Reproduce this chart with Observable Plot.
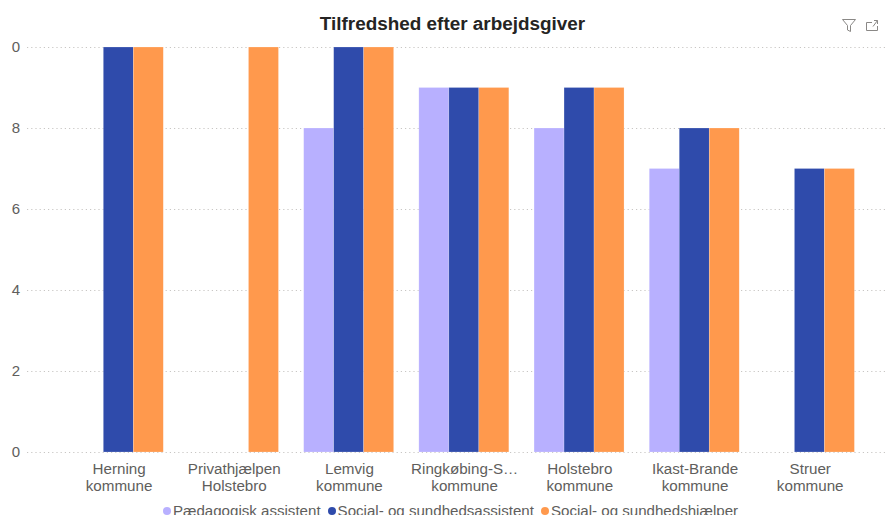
<!DOCTYPE html>
<html><head><meta charset="utf-8">
<script src="https://cdn.jsdelivr.net/npm/d3@7"></script>
<script src="https://cdn.jsdelivr.net/npm/@observablehq/plot@0.6"></script>
<style>
html,body{margin:0;padding:0;background:#fff;overflow:hidden;height:515px;width:887px}
#wrap{position:relative;width:887px;height:515px;overflow:hidden;font-family:"Liberation Sans",Arial,sans-serif}
#title{height:40px;box-sizing:border-box;padding-top:13px;padding-left:18px;text-align:center;font-size:18.9px;line-height:22px;font-weight:700;color:#252423}
#icons{position:absolute;left:840px;top:16px}
#legend{display:flex;justify-content:center;align-items:center;gap:7px;font-size:15.1px;color:#605E5C;height:22px;line-height:22px;padding-left:14px;padding-top:2px}
#legend span.i{display:inline-flex;align-items:center;gap:2px}
#legend i{display:inline-block;width:8px;height:8px;border-radius:50%}
svg{display:block}
</style></head><body>
<div id="wrap">
<div id="title">Tilfredshed efter arbejdsgiver</div>
<svg id="icons" width="42" height="18" viewBox="0 0 42 18" fill="none" stroke="#8a8886" stroke-width="1">
<path d="M2.5 3.5H15.5L10.5 9.5V15.5L7.5 14V9.5Z"/>
<path d="M26.5 6.5H32M26.5 6.5V14.5H37.5V10M33 10.5L37.5 4.5M34 4.5H37.5V8" />
</svg>
<div id="chart"></div>
<div id="legend"></div>
</div>
<script>
const categoryIndex = [0,1,2,3,4,5,6];
const categoryLabels = ["Herning\nkommune","Privathjælpen\nHolstebro","Lemvig\nkommune","Ringkøbing-S…\nkommune","Holstebro\nkommune","Ikast-Brande\nkommune","Struer\nkommune"];
const seriesNames = ["Pædagogisk assistent","Social- og sundhedsassistent","Social- og sundhedshjælper"];
const seriesColors = ["#B8B0FF","#2F4BAB","#FF994D"];
const paedagogisk = [null,null,8,9,8,7,null];
const assistent = [10,null,10,9,9,8,7];
const hjaelper = [10,10,10,9,9,8,7];
const yTicks = [0,2,4,6,8,10];
const yLabels = ["0","2","4","6","8","0"];
const barShare = 0.2604;

const rows = [];
[paedagogisk,assistent,hjaelper].forEach((vals,s)=>vals.forEach((v,c)=>{
  if(v!==null) rows.push({c,s,series:seriesNames[s],value:v});
}));

const plot = Plot.plot({
  width:887,height:458,
  marginTop:7,marginBottom:46,marginLeft:27,marginRight:0,
  style:{fontFamily:"'Liberation Sans',Arial,sans-serif",background:"#fff",overflow:"visible"},
  y:{domain:[0,10],label:null},
  x:{type:"linear",domain:[-0.5,6.5],range:[60.7,867],label:null},
  color:{domain:seriesNames,range:seriesColors},
  marks:[
    Plot.ruleY(yTicks,{stroke:"#c8c6c4",strokeWidth:1.2,strokeDasharray:"1.2 3"}),
    Plot.rectY(rows,{x1:d=>d.c+(d.s-1.5)*barShare,x2:d=>d.c+(d.s-0.5)*barShare,y1:0,y2:"value",fill:"series",stroke:"#fff",strokeWidth:0.5,strokeOpacity:0.4}),
    Plot.axisY({ticks:yTicks,tickSize:0,tickPadding:7.5,label:null,fontSize:15,fill:"#605E5C",tickFormat:d=>yLabels[yTicks.indexOf(d)]}),
    Plot.axisX({ticks:categoryIndex,anchor:"bottom",tickSize:0,tickPadding:9,dx:0.3,label:null,fontSize:15.2,lineHeight:1.12,fill:"#605E5C",tickFormat:d=>categoryLabels[d]})
  ]
});
document.getElementById("chart").appendChild(plot);
const lg=document.getElementById("legend");
seriesNames.forEach((n,i)=>{
  const s=document.createElement("span");s.className="i";
  const dot=document.createElement("i");dot.style.background=seriesColors[i];
  s.appendChild(dot);s.appendChild(document.createTextNode(n));lg.appendChild(s);
});
</script>
</body></html>
